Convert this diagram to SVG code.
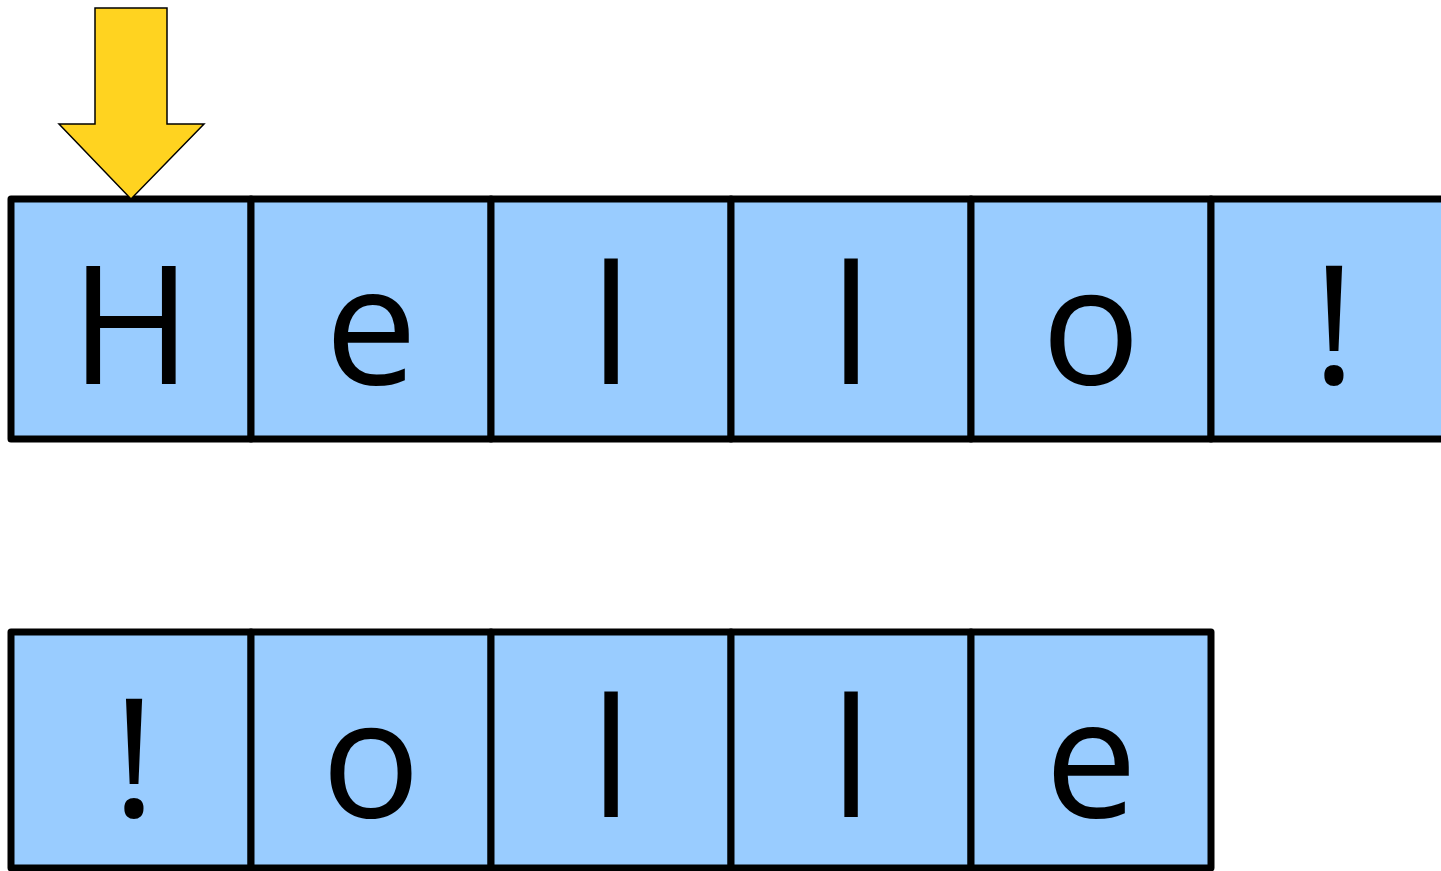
<svg xmlns="http://www.w3.org/2000/svg" width="1441" height="871" viewBox="0 0 1441 871">
<style>
.cell{fill:#99ccff;stroke:#000;stroke-width:7;stroke-linejoin:round}
.ch{font-family:"Open Sans","Noto Sans","Liberation Sans",sans-serif;font-size:165px;fill:#000;text-anchor:middle}
</style>
<rect width="1441" height="871" fill="#fff"/>
<g id="row1">
<g id="c1-0"><rect class="cell" x="11" y="199" width="240" height="240"/><text class="ch" x="131" y="384">H</text></g>
<g id="c1-1"><rect class="cell" x="251" y="199" width="240" height="240"/><text class="ch" x="371" y="384">e</text></g>
<g id="c1-2"><rect class="cell" x="491" y="199" width="240" height="240"/><text class="ch" x="611" y="384">l</text></g>
<g id="c1-3"><rect class="cell" x="731" y="199" width="240" height="240"/><text class="ch" x="851" y="384">l</text></g>
<g id="c1-4"><rect class="cell" x="971" y="199" width="240" height="240"/><text class="ch" x="1091" y="384">o</text></g>
<g id="c1-5"><rect class="cell" x="1211" y="199" width="240" height="240"/><text class="ch" x="1334" y="384">!</text></g>
</g>
<g id="row2">
<g id="c2-0"><rect class="cell" x="11" y="632" width="240" height="236"/><text class="ch" x="134" y="817">!</text></g>
<g id="c2-1"><rect class="cell" x="251" y="632" width="240" height="236"/><text class="ch" x="371" y="817">o</text></g>
<g id="c2-2"><rect class="cell" x="491" y="632" width="240" height="236"/><text class="ch" x="611" y="817">l</text></g>
<g id="c2-3"><rect class="cell" x="731" y="632" width="240" height="236"/><text class="ch" x="851" y="817">l</text></g>
<g id="c2-4"><rect class="cell" x="971" y="632" width="240" height="236"/><text class="ch" x="1091" y="817">e</text></g>
</g>
<g id="pointer">
<polygon points="95,8 167,8 167,124 204,124 131,199 59,124 95,124" fill="#ffd320" stroke="#000" stroke-width="1.5" stroke-linejoin="miter"/>
</g>
</svg>
